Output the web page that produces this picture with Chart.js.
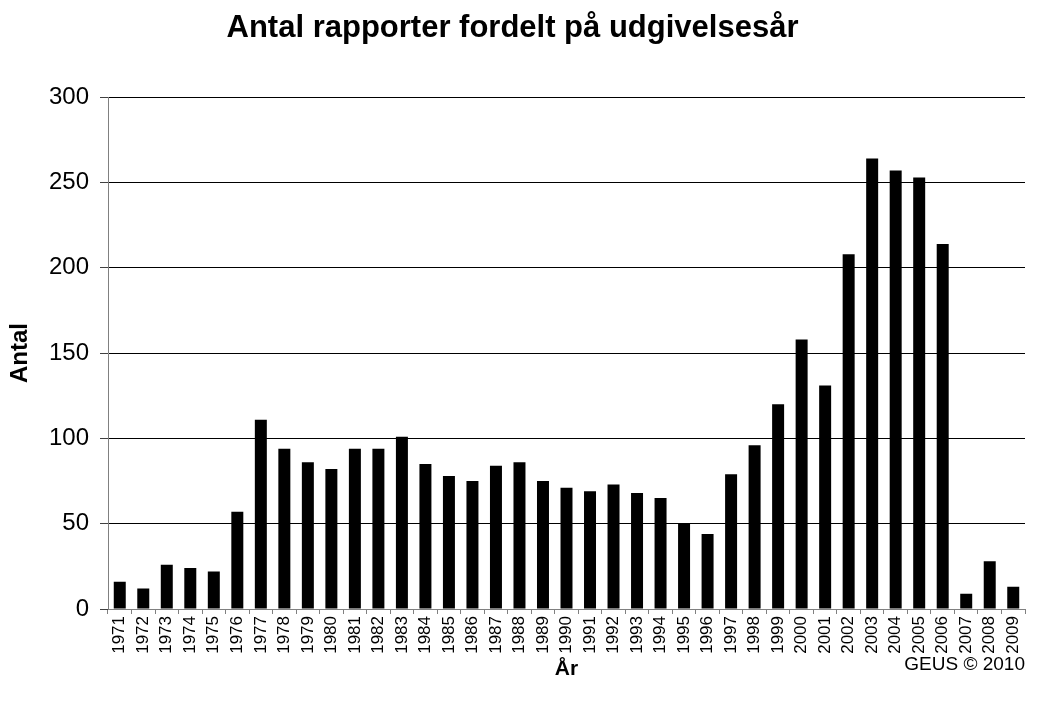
<!DOCTYPE html>
<html>
<head>
<meta charset="utf-8">
<script src="https://cdn.jsdelivr.net/npm/chart.js@4"></script>
<style>
  body { margin: 0; background: #fff; }
  canvas { display: block; }
</style>
</head>
<body>
<canvas id="chart" width="1038" height="701"></canvas>
<script>
// years along the x axis
const years = ['1971','1972','1973','1974','1975','1976','1977','1978','1979','1980',
  '1981','1982','1983','1984','1985','1986','1987','1988','1989','1990',
  '1991','1992','1993','1994','1995','1996','1997','1998','1999','2000',
  '2001','2002','2003','2004','2005','2006','2007','2008','2009'];

// number of reports per year
const antal = [16, 12, 26, 24, 22, 57, 111, 94, 86, 82,
  94, 94, 101, 85, 78, 75, 84, 86, 75, 71,
  69, 73, 68, 65, 50, 44, 79, 96, 120, 158,
  131, 208, 264, 257, 253, 214, 9, 28, 13];

const yTicks = [0, 50, 100, 150, 200, 250, 300];

const fontFam = '"Liberation Sans", Arial, sans-serif';
const narrowFam = '"Liberation Sans Narrow", "Arial Narrow", "Liberation Sans", sans-serif';

const copyright = {
  id: 'copyright',
  afterDraw(chart) {
    const ctx = chart.ctx;
    ctx.save();
    ctx.font = '19px ' + fontFam;
    ctx.fillStyle = '#000';
    ctx.textAlign = 'right';
    ctx.textBaseline = 'middle';
    ctx.fillText('GEUS © 2010', 1025, 665);
    ctx.restore();
  }
};

new Chart(document.getElementById('chart'), {
  type: 'bar',
  data: {
    labels: years,
    datasets: [{
      data: antal,
      backgroundColor: '#000',
      categoryPercentage: 1,
      barPercentage: 0.51
    }]
  },
  options: {
    responsive: false,
    animation: false,
    layout: { padding: { left: 0, right: 13, top: 0, bottom: 0 } },
    plugins: {
      legend: { display: false },
      tooltip: { enabled: false },
      title: {
        display: true,
        text: 'Antal rapporter fordelt på udgivelsesår',
        color: '#000',
        font: { family: fontFam, size: 31, weight: 'bold' },
        padding: { top: 10, bottom: 50 }
      }
    },
    scales: {
      x: {
        grid: {
          offset: true,
          drawOnChartArea: false,
          color: '#808080',
          tickLength: 5
        },
        border: { color: '#808080' },
        ticks: {
          color: '#000',
          font: { family: narrowFam, size: 17 },
          minRotation: 90,
          maxRotation: 90,
          autoSkip: false,
          padding: 2
        },
        title: {
          display: true,
          text: 'År',
          color: '#000',
          font: { family: fontFam, size: 21, weight: 'bold' },
          padding: { top: 0, bottom: 19 }
        },
        afterFit(scale) {
          scale.height = 92;
          scale.paddingLeft = 0;
          scale.paddingRight = 0;
        }
      },
      y: {
        min: 0,
        max: 300,
        afterBuildTicks(scale) { scale.ticks = yTicks.map(v => ({ value: v })); },
        grid: {
          color: '#000',
          tickColor: '#404040',
          tickLength: 8
        },
        border: { color: '#808080' },
        ticks: {
          color: '#000',
          font: { family: fontFam, size: 24 },
          padding: 11
        },
        title: {
          display: true,
          text: 'Antal',
          color: '#000',
          font: { family: fontFam, size: 24, weight: 'bold' },
          padding: { top: 6, bottom: 0 }
        },
        afterFit(scale) { scale.width = 108; }
      }
    }
  },
  plugins: [copyright]
});
</script>
</body>
</html>
